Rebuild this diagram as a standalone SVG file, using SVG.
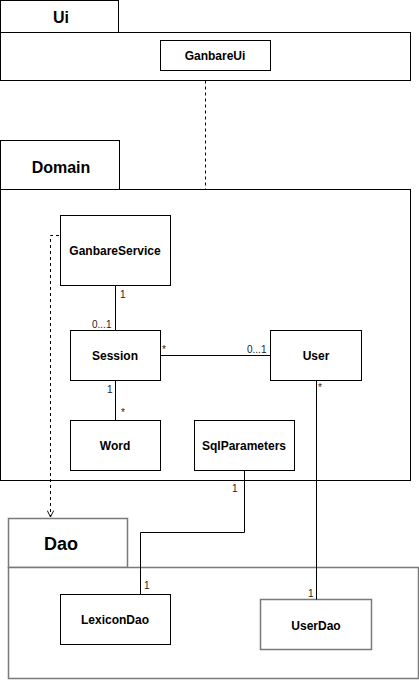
<svg xmlns="http://www.w3.org/2000/svg" width="419" height="680" viewBox="0 0 419 680">
<defs>
<style>
.pkg{fill:#fff;stroke:#000;stroke-width:1}
.pkgg{fill:#fff;stroke:#7a7a7a;stroke-width:1.5}
.cls{fill:#fff;stroke:#000;stroke-width:1}
.clsg{fill:#fff;stroke:#7a7a7a;stroke-width:1.5}
.pt{font-family:"Liberation Sans",Arial,sans-serif;font-weight:bold;fill:#000;text-anchor:middle}
.ct{font-family:"Liberation Sans",Arial,sans-serif;font-weight:bold;font-size:12px;fill:#000;text-anchor:middle}
.m{font-family:"Liberation Sans",Arial,sans-serif;font-size:10px;fill:#222}
.e{fill:none;stroke:#000;stroke-width:1}
.d{fill:none;stroke:#000;stroke-width:1;stroke-dasharray:3,3}
</style>
<marker id="open" viewBox="0 0 10 10" refX="9" refY="5" markerWidth="8" markerHeight="8" orient="auto" markerUnits="userSpaceOnUse">
<path d="M1,1 L9,5 L1,9" fill="none" stroke="#000" stroke-width="1.2"/>
</marker>
</defs>
<rect width="419" height="680" fill="#fff"/>

<g id="pkg-ui">
<rect class="pkg" x="0.5" y="0.5" width="118" height="32"/>
<rect class="pkg" x="0.5" y="32.5" width="410" height="48"/>
<text class="pt" x="61" y="23" font-size="16">Ui</text>
</g>
<g id="pkg-domain">
<rect class="pkg" x="0.5" y="140.5" width="119" height="49"/>
<rect class="pkg" x="0.5" y="189.5" width="410" height="291"/>
<text class="pt" x="61" y="173" font-size="16">Domain</text>
</g>
<g id="pkg-dao">
<rect class="pkgg" x="8.5" y="518.5" width="119" height="49"/>
<rect class="pkgg" x="8.5" y="567.5" width="410" height="111"/>
<text class="pt" x="61" y="550" font-size="18">Dao</text>
</g>

<g id="node-ganbareui">
<rect class="cls" x="160.5" y="40.5" width="110" height="30"/>
<text class="ct" x="215" y="60">GanbareUi</text>
</g>
<g id="node-ganbareservice">
<rect class="cls" x="60.5" y="215.5" width="110" height="70"/>
<text class="ct" x="115" y="255">GanbareService</text>
</g>
<g id="node-session">
<rect class="cls" x="70.5" y="330.5" width="90" height="50"/>
<text class="ct" x="115" y="360">Session</text>
</g>
<g id="node-user">
<rect class="cls" x="270.5" y="330.5" width="91" height="50"/>
<text class="ct" x="316" y="360">User</text>
</g>
<g id="node-word">
<rect class="cls" x="70.5" y="420.5" width="90" height="50"/>
<text class="ct" x="115" y="450">Word</text>
</g>
<g id="node-sqlparameters">
<rect class="cls" x="194.5" y="420.5" width="100" height="50"/>
<text class="ct" x="244" y="450">SqlParameters</text>
</g>
<g id="node-lexicondao">
<rect class="cls" x="60.5" y="594.5" width="110" height="50"/>
<text class="ct" x="115" y="624">LexiconDao</text>
</g>
<g id="node-userdao">
<rect class="clsg" x="260.5" y="599.5" width="111" height="50"/>
<text class="ct" x="316" y="630">UserDao</text>
</g>

<g id="connectors">
<path class="d" d="M205.5,80.5 L205.5,189.5"/>
<path class="d" d="M59,235.5 L50.5,235.5 L50.5,517" marker-end="url(#open)"/>
<path class="e" d="M115.5,285.5 L115.5,330.5"/>
<path class="e" d="M160.5,355.5 L270.5,355.5"/>
<path class="e" d="M115.5,380.5 L115.5,420.5"/>
<path class="e" d="M316.5,380.5 L316.5,599.5"/>
<path class="e" d="M244.5,470.5 L244.5,532.5 L140.5,532.5 L140.5,594.5 L116.5,594.5"/>
<text class="m" x="120" y="298">1</text>
<text class="m" x="92" y="328">0...1</text>
<text class="m" x="162" y="353">*</text>
<text class="m" x="247" y="353">0...1</text>
<text class="m" x="107" y="393">1</text>
<text class="m" x="121" y="416">*</text>
<text class="m" x="318" y="391">*</text>
<text class="m" x="232" y="492">1</text>
<text class="m" x="144" y="589">1</text>
<text class="m" x="308" y="597">1</text>
</g>
</svg>
